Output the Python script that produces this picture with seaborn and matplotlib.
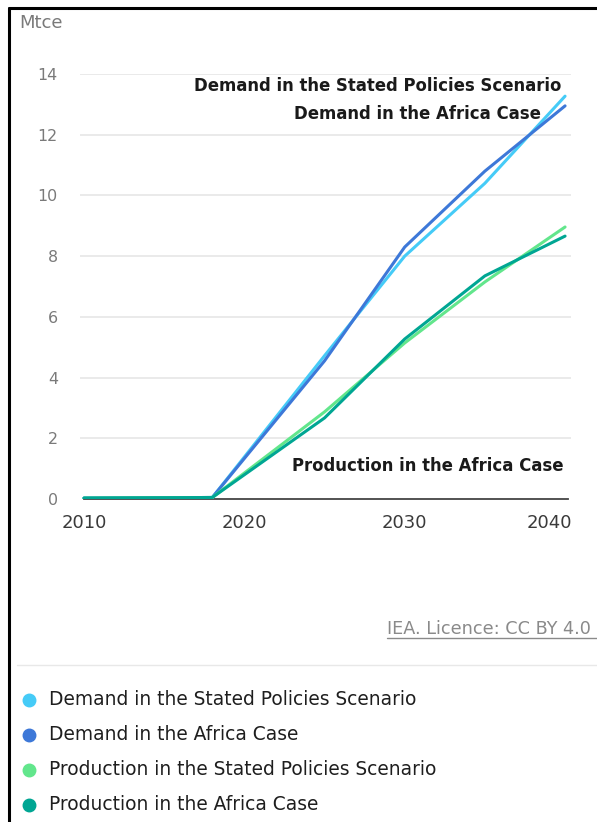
import matplotlib
matplotlib.use("Agg")
import matplotlib.pyplot as plt
import matplotlib.transforms as mtransforms
from matplotlib.lines import Line2D
import seaborn as sns
import pandas as pd

sns.set_theme(style="white")
plt.rcParams["font.family"] = ["DejaVu Sans"]

years = [2010, 2018, 2025, 2030, 2035, 2040]
demand_steps = [0.03, 0.05, 4.72, 8.00, 10.40, 13.27]
demand_africa = [0.03, 0.05, 4.55, 8.30, 10.80, 12.95]
production_steps = [0.03, 0.05, 2.87, 5.14, 7.15, 8.96]
production_africa = [0.03, 0.05, 2.67, 5.27, 7.35, 8.66]

series_names = [
    "Demand in the Stated Policies Scenario",
    "Demand in the Africa Case",
    "Production in the Stated Policies Scenario",
    "Production in the Africa Case",
]
series_values = [demand_steps, demand_africa, production_steps, production_africa]
colors = ["#45CBF7", "#3D78D8", "#62E68C", "#00A693"]

y_ticks = [0, 2, 4, 6, 8, 10, 12, 14]
x_ticks = [2010, 2020, 2030, 2040]

rows = []
for name, vals in zip(series_names, series_values):
    for yr, v in zip(years, vals):
        rows.append({"year": yr, "value": v, "series": name})
df = pd.DataFrame(rows)

W, H = 597, 822
fig = plt.figure(figsize=(W / 100, H / 100), dpi=100)
fig.patch.set_facecolor("white")

def fx(x):
    return x / W

def fy(y):
    return 1 - y / H

ax = fig.add_axes([fx(80), fy(499), fx(571) - fx(80), fy(74) - fy(499)])
sns.lineplot(data=df, x="year", y="value", hue="series", hue_order=series_names,
             palette=colors, linewidth=2.2, legend=False, ax=ax, zorder=3)

ax.set_xlim(2009.75, 2040.37)
ax.set_ylim(0, 14)
ax.set_yticks(y_ticks)
ax.set_xticks(x_ticks)
ax.set_yticklabels([str(t) for t in y_ticks], color="#7a7a7a", fontsize=11.4)
ax.set_xticklabels([str(t) for t in x_ticks], color="#3a3a3a", fontsize=13)
ax.set_xlabel("")
ax.set_ylabel("")
for t in y_ticks[1:]:
    ax.axhline(t, color="#e6e6e6", linewidth=1.2, zorder=1)
for s in ["top", "right", "left"]:
    ax.spines[s].set_visible(False)
ax.spines["bottom"].set_color("#444444")
ax.spines["bottom"].set_linewidth(1.3)
ax.spines["bottom"].set_bounds(2010, 2040.2)
ax.tick_params(axis="y", length=0, pad=16)
ax.tick_params(axis="x", length=8, width=1.3, color="#444444", direction="out", pad=3)
ax.set_facecolor("white")

# keep the last year label inside the plot's right edge
last = ax.get_xticklabels()[-1]
last.set_horizontalalignment("right")
last.set_transform(last.get_transform() +
                   mtransforms.ScaledTranslation(7 / 100, 0, fig.dpi_scale_trans))

# inline labels
lab = dict(fontsize=11.9, fontweight="bold", color="#1a1a1a", ha="right", va="center")
fig.text(fx(561), fy(86), "Demand in the Stated Policies Scenario", **lab)
fig.text(fx(541), fy(114), "Demand in the Africa Case", **lab)
fig.text(fx(563), fy(466), "Production in the Africa Case", **lab)

# unit
fig.text(fx(19), fy(23), "Mtce", fontsize=13, color="#7a7a7a", va="center", ha="left")

# source
fig.text(fx(387), fy(629), "IEA. Licence: CC BY 4.0", fontsize=12.7, color="#8a8a8a",
         va="center", ha="left")
fig.add_artist(Line2D([fx(387), 1.0], [fy(638), fy(638)], color="#8a8a8a", linewidth=1))

# separator
fig.add_artist(Line2D([fx(17), 1.0], [fy(665), fy(665)], color="#e8e8e8", linewidth=1))

# legend
for i, (name, c) in enumerate(zip(series_names, colors)):
    yy = 700 + 35 * i
    fig.add_artist(Line2D([fx(29)], [fy(yy)], linestyle="none", marker="o", markersize=9,
                          markerfacecolor=c, markeredgecolor=c))
    fig.text(fx(49), fy(yy - 1), name, fontsize=13.4, color="#1e1e1e",
             va="center", ha="left")

# outer frame (top and left edges)
fig.add_artist(Line2D([fx(9), 1.0], [fy(8), fy(8)], color="black", linewidth=2.2))
fig.add_artist(Line2D([fx(9), fx(9)], [0, fy(8)], color="black", linewidth=2.2))

fig.savefig("out.png", dpi=100, facecolor="white")
